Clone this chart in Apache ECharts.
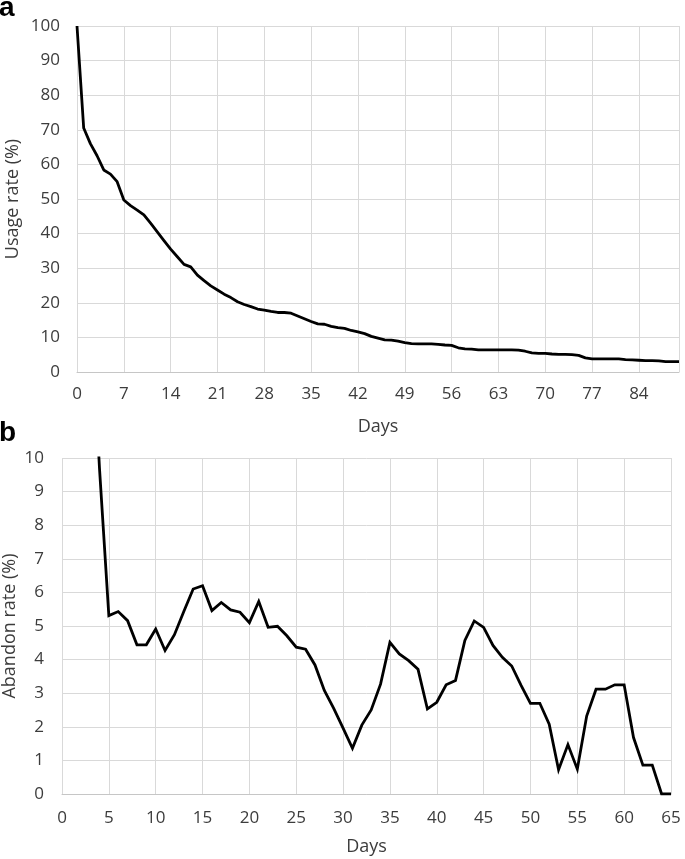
<!DOCTYPE html>
<html>
<head>
<meta charset="utf-8">
<script src="https://cdn.jsdelivr.net/npm/echarts@6/dist/echarts.min.js"></script>
<style>
html,body{margin:0;padding:0;background:#fff;}
#c{width:685px;height:859px;}
</style>
</head>
<body>
<div id="c"></div>
<script>
// Panel a: usage rate (%) for days 0..90
const usageRate = [
  100, 70.5, 66, 62.5, 58.4, 57.2, 55, 49.7, 48.1, 46.8,
  45.4, 43, 40.5, 38, 35.5, 33.3, 31.1, 30.4, 28, 26.4,
  24.9, 23.7, 22.5, 21.5, 20.3, 19.5, 18.9, 18.2, 17.9, 17.5,
  17.2, 17.2, 17.0, 16.2, 15.4, 14.6, 13.9, 13.8, 13.2, 12.8,
  12.6, 12.0, 11.6, 11.1, 10.3, 9.8, 9.3, 9.2, 8.9, 8.5,
  8.2, 8.1, 8.1, 8.1, 8.0, 7.8, 7.7, 7.0, 6.7, 6.6,
  6.4, 6.4, 6.4, 6.4, 6.4, 6.4, 6.3, 6.0, 5.5, 5.4,
  5.4, 5.2, 5.1, 5.1, 5.0, 4.8, 4.1, 3.8, 3.8, 3.8,
  3.8, 3.8, 3.6, 3.5, 3.4, 3.3, 3.3, 3.2, 3.0, 3.0,
  3.0
];
const usageFirstDay = 0;

// Panel b: abandon rate (%) from day 3 to day 65 (day 3 is off the top of the axis)
const abandonRate = [
  15, 9.7, 5.31, 5.43, 5.16, 4.44, 4.44, 4.91, 4.27, 4.74,
  5.43, 6.10, 6.20, 5.46, 5.70, 5.48, 5.41, 5.10, 5.73, 4.96,
  4.99, 4.71, 4.37, 4.31, 3.84, 3.08, 2.55, 1.96, 1.36, 2.05,
  2.50, 3.27, 4.51, 4.17, 3.97, 3.71, 2.53, 2.73, 3.25, 3.38,
  4.57, 5.15, 4.96, 4.42, 4.07, 3.81, 3.23, 2.70, 2.70, 2.08,
  0.72, 1.47, 0.74, 2.32, 3.12, 3.12, 3.25, 3.25, 1.68, 0.86,
  0.86, 0, 0
];
const abandonFirstDay = 3;

const xTicksA = {min: 0, max: 90, interval: 7};
const yTicksA = {min: 0, max: 100, interval: 10};
const xTicksB = {min: 0, max: 65, interval: 5};
const yTicksB = {min: 0, max: 10, interval: 1};

const labelFont = 'Open Sans';
const labelColor = '#3c3c3c';
const gridColor = '#d9d9d9';

const usageData = usageRate.map((v, i) => [usageFirstDay + i, v]);
const abandonData = abandonRate.map((v, i) => [abandonFirstDay + i, v]);

function xAxis(gridIndex, t, margin, nameGap) {
  return {
    type: 'value', gridIndex, min: t.min, max: t.max, interval: t.interval,
    name: 'Days', nameLocation: 'middle', nameGap, nameMoveOverlap: false,
    nameTextStyle: {fontFamily: labelFont, fontSize: 18, color: labelColor},
    axisLine: {show: true, onZero: false, lineStyle: {color: '#c6c6c6', width: 1}},
    axisTick: {show: false},
    axisLabel: {fontFamily: labelFont, fontSize: 17, color: labelColor, margin, showMaxLabel: gridIndex === 1},
    splitLine: {show: true, lineStyle: {color: gridColor, width: 1}}
  };
}
function yAxis(gridIndex, t, name, nameGap, margin) {
  return {
    type: 'value', gridIndex, min: t.min, max: t.max, interval: t.interval,
    name, nameLocation: 'middle', nameGap, nameMoveOverlap: false,
    nameTextStyle: {fontFamily: labelFont, fontSize: 18, color: labelColor},
    axisLine: {show: false}, axisTick: {show: false},
    axisLabel: {fontFamily: labelFont, fontSize: 17, color: labelColor, margin},
    splitLine: {show: true, lineStyle: {color: gridColor, width: 1}}
  };
}

const chart = echarts.init(document.getElementById('c'), null, {renderer: 'canvas'});
chart.setOption({
  animation: false,
  backgroundColor: '#fff',
  graphic: [
    {type: 'text', left: -1, top: -6, style: {text: 'a', font: 'bold 28px "Liberation Sans"', fill: '#000'}},
    {type: 'text', left: -1, top: 419, style: {text: 'b', font: 'bold 28px "Liberation Sans"', fill: '#000'}}
  ],
  grid: [
    {left: 77, top: 26, width: 602, height: 346, containLabel: false, outerBoundsMode: 'none'},
    {left: 62, top: 458, width: 609, height: 336, containLabel: false, outerBoundsMode: 'none'}
  ],
  xAxis: [xAxis(0, xTicksA, 14, 46), xAxis(1, xTicksB, 16, 44)],
  yAxis: [yAxis(0, yTicksA, 'Usage rate (%)', 55, 17), yAxis(1, yTicksB, 'Abandon rate (%)', 43, 18)],
  series: [
    {type: 'line', xAxisIndex: 0, yAxisIndex: 0, data: usageData, showSymbol: false, clip: true,
     lineStyle: {color: '#000', width: 2.8, join: 'round'}},
    {type: 'line', xAxisIndex: 1, yAxisIndex: 1, data: abandonData, showSymbol: false, clip: true,
     lineStyle: {color: '#000', width: 2.8, join: 'miter'}}
  ]
});
</script>
</body>
</html>
